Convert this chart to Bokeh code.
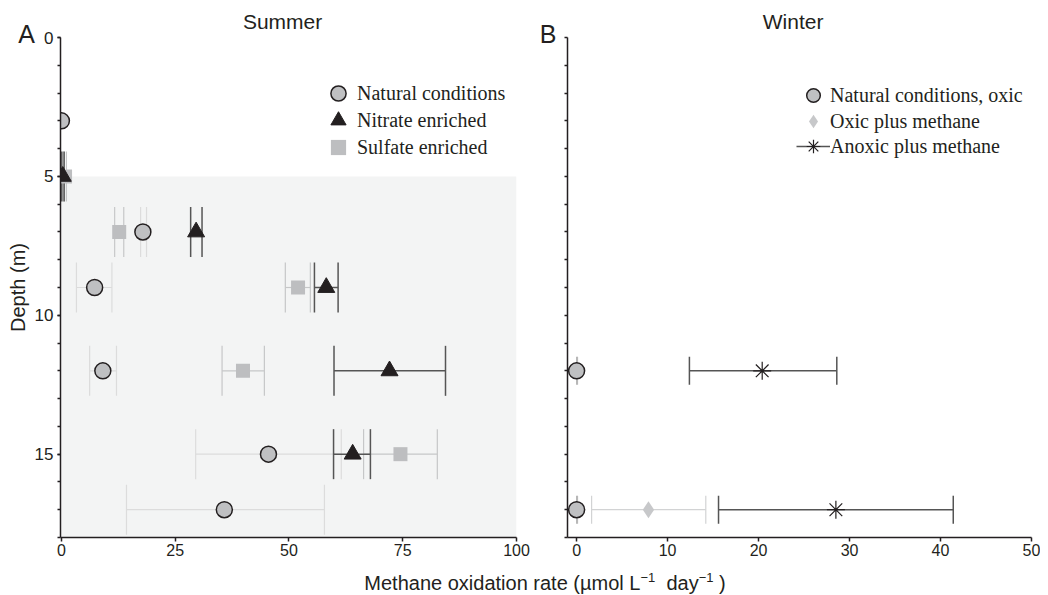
import math
from bokeh.plotting import figure
from bokeh.models import (Range1d, FixedTicker, Legend, LegendItem, Label,
                          BoxAnnotation, Div)
from bokeh.layouts import row, column
from bokeh.embed import file_html
from bokeh.resources import INLINE

NaN = float("nan")

# ---------------- Summer (panel A) ----------------
nat_s_depth = [3, 7, 9, 12, 15, 17]
nat_s_rate = [0.0, 17.9, 7.3, 9.1, 45.5, 35.8]
nat_s_low = [NaN, 17.4, 3.3, 6.2, 29.5, 14.3]
nat_s_high = [NaN, 18.7, 11.1, 12.1, 61.5, 57.8]

nit_s_depth = [5, 7, 9, 12, 15]
nit_s_rate = [0.3, 29.6, 58.2, 72.1, 64.0]
nit_s_low = [0.1, 28.4, 55.6, 59.9, 59.8]
nit_s_high = [0.6, 30.9, 60.8, 84.4, 67.9]

sul_s_depth = [5, 7, 9, 12, 15]
sul_s_rate = [0.8, 12.7, 52.0, 39.9, 74.5]
sul_s_low = [0.5, 11.7, 49.2, 35.3, 66.4]
sul_s_high = [1.1, 13.7, 54.7, 44.6, 82.6]

# ---------------- Winter (panel B) ----------------
nat_w_depth = [12, 17]
nat_w_rate = [0.0, 0.0]
nat_w_low = [0.0, 0.0]
nat_w_high = [0.1, 0.1]

oxm_w_depth = [17]
oxm_w_rate = [7.9]
oxm_w_low = [1.65]
oxm_w_high = [14.2]

anm_w_depth = [12, 17]
anm_w_rate = [20.4, 28.5]
anm_w_low = [12.4, 15.6]
anm_w_high = [28.6, 41.4]

summer_xticks = [0, 25, 50, 75, 100]
winter_xticks = [0, 10, 20, 30, 40, 50]
depth_major = [0, 5, 10, 15]
depth_minor = list(range(0, 19))
shade_top, shade_bottom = 5, 18

INK = "#231f20"
SANS = "Liberation Sans"
SERIF = "Liberation Serif"


def make_fig(width, xr, bl, br):
    p = figure(width=width, height=564, x_range=xr, y_range=Range1d(18, 0),
               output_backend="svg", toolbar_location=None,
               min_border_left=bl, min_border_right=br,
               min_border_top=37, min_border_bottom=27)
    p.outline_line_color = None
    p.xgrid.visible = False
    p.ygrid.visible = False
    p.background_fill_color = "white"
    for ax in (p.xaxis[0], p.yaxis[0]):
        ax.axis_line_color = INK
        ax.axis_line_width = 1.5
        ax.major_tick_line_color = INK
        ax.major_tick_line_width = 1.5
        ax.minor_tick_line_color = INK
        ax.minor_tick_line_width = 1.5
        ax.major_tick_in = 0
        ax.minor_tick_in = 0
        ax.major_label_text_font = SANS
        ax.major_label_text_color = INK
    p.xaxis.major_tick_out = 4
    p.xaxis.minor_tick_out = 0
    p.xaxis.major_label_text_font_size = "16px"
    p.xaxis.major_label_standoff = 2
    p.yaxis.major_tick_out = 3
    p.yaxis.minor_tick_out = 3
    p.yaxis.major_label_text_font_size = "17px"
    p.yaxis.major_label_standoff = 4
    return p


def errbar(p, depth, low, high, color, lw, cap):
    seg = p.segment(x0=low, y0=depth, x1=high, y1=depth,
                    line_color=color, line_width=lw)
    for xs in (low, high):
        p.scatter(x=xs, y=depth, marker="dash", size=cap, angle=math.pi / 2,
                  line_color=color, line_width=lw)
    return seg


def text_label(x, y, text, size, angle=0.0):
    return Label(x=x, y=y, text=text, text_font=SANS, text_font_size=size,
                 text_color=INK, text_align="center", text_baseline="middle",
                 angle=angle)


def legend_entry(p, label, renderers, loc, gw):
    # one single-row legend per entry so rows can sit closer than glyph height
    p.add_layout(Legend(items=[LegendItem(label=label, renderers=renderers)],
                        location=loc, orientation="vertical", padding=0, margin=0,
                        spacing=0, glyph_width=gw, glyph_height=40, label_height=40,
                        label_standoff=0, border_line_color=None,
                        background_fill_alpha=0, label_text_font=SERIF,
                        label_text_font_size="20px", label_text_color=INK))


# ---------------- Panel A ----------------
p1 = make_fig(541, Range1d(-0.2, 100), 60, 25)
p1.xaxis.ticker = FixedTicker(ticks=summer_xticks)
p1.yaxis.ticker = FixedTicker(ticks=depth_major, minor_ticks=depth_minor)
p1.yaxis.axis_label = "Depth (m)"
p1.yaxis.axis_label_text_font = SANS
p1.yaxis.axis_label_text_font_size = "20px"
p1.yaxis.axis_label_text_font_style = "normal"
p1.yaxis.axis_label_text_color = INK
p1.yaxis.axis_label_standoff = 3

p1.add_layout(BoxAnnotation(left=0, right=100, top=shade_top, bottom=shade_bottom,
                            fill_color="#f3f4f4", fill_alpha=1.0,
                            line_color=None, level="underlay"))

errbar(p1, nat_s_depth, nat_s_low, nat_s_high, "#dcdcdc", 1.2, 50)
errbar(p1, sul_s_depth, sul_s_low, sul_s_high, "#c6c7c8", 1.2, 50)
errbar(p1, nit_s_depth, nit_s_low, nit_s_high, "#555555", 1.5, 50)

r_sul = p1.scatter(x=sul_s_rate, y=sul_s_depth, marker="square", size=14,
                   fill_color="#bdbec0", line_color=None)
r_nat = p1.scatter(x=nat_s_rate, y=nat_s_depth, marker="circle", size=16,
                   fill_color="#bfc0c2", line_color=INK, line_width=1.5)
r_nit = p1.scatter(x=nit_s_rate, y=nit_s_depth, marker="triangle", size=17,
                   fill_color=INK, line_color=INK, line_width=1)

legend_entry(p1, "Natural conditions", [r_nat], (259, 424), 38)
legend_entry(p1, "Nitrate enriched", [r_nit], (259, 397), 38)
legend_entry(p1, "Sulfate enriched", [r_sul], (259, 370), 38)

# text annotations placed in side panels so they are not clipped to the frame
p1.add_layout(text_label(-7.66, -0.11, "A", "25px"), "right")
p1.add_layout(text_label(48.6, -0.58, "Summer", "21px"), "above")

# ---------------- Panel B ----------------
p2 = make_fig(499, Range1d(-1, 50), 26, 9)
p2.xaxis.ticker = FixedTicker(ticks=winter_xticks)
p2.yaxis.ticker = FixedTicker(ticks=depth_minor)
p2.yaxis.major_label_overrides = {t: "" for t in depth_minor}
p2.yaxis.major_label_standoff = 0

errbar(p2, nat_w_depth, nat_w_low, nat_w_high, "#b8b8b8", 1.2, 28)
errbar(p2, oxm_w_depth, oxm_w_low, oxm_w_high, "#d2d3d4", 1.2, 28)
r_anm_bar = errbar(p2, anm_w_depth, anm_w_low, anm_w_high, "#555555", 1.5, 28)

r_natw = p2.scatter(x=nat_w_rate, y=nat_w_depth, marker="circle", size=16,
                    fill_color="#bfc0c2", line_color=INK, line_width=1.5)
r_oxm = p2.scatter(x=oxm_w_rate, y=oxm_w_depth, marker="diamond", size=17,
                   fill_color="#c7c8ca", line_color=None)
r_anm = p2.scatter(x=anm_w_rate, y=anm_w_depth, marker="asterisk", size=18,
                   line_color=INK, line_width=1.2)

legend_entry(p2, "Natural conditions, oxic", [r_natw], (229, 422), 34)
legend_entry(p2, "Oxic plus methane", [r_oxm], (229, 396), 34)
legend_entry(p2, "Anoxic plus methane", [r_anm_bar, r_anm], (229, 371), 34)

p2.add_layout(text_label(-3.14, -0.11, "B", "25px"), "left")
p2.add_layout(text_label(23.8, -0.58, "Winter", "21px"), "above")

xlabel = Div(text=('<div style="width:1040px;box-sizing:border-box;padding-left:40px;'
                   'text-align:center;font-family:\'Liberation Sans\',sans-serif;'
                   'font-size:20px;line-height:28px;color:#231f20;white-space:nowrap;">'
                   'Methane oxidation rate (&micro;mol L<sup style="font-size:13px;line-height:0;">&minus;1</sup>'
                   '&nbsp; day<sup style="font-size:13px;line-height:0;">&minus;1</sup> )</div>'),
             width=1040, height=28)

layout = column(row(p1, p2), xlabel)
open("out.html", "w").write(file_html(layout, INLINE))
